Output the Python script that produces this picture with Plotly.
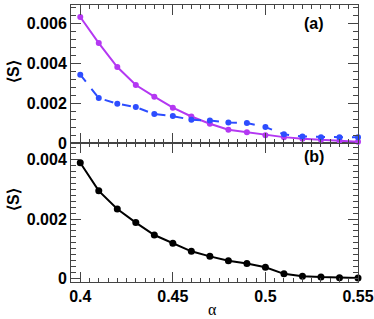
import plotly.graph_objects as go

alpha = [0.40, 0.41, 0.42, 0.43, 0.44, 0.45, 0.46, 0.47, 0.48, 0.49, 0.50, 0.51, 0.52, 0.53, 0.54, 0.55]
s_magenta = [0.0063, 0.0050, 0.0038, 0.0029, 0.00232, 0.00177, 0.00133, 0.00097, 0.00067, 0.00055, 0.00040, 0.00030, 0.00022, 0.00017, 0.00012, 0.00007]
s_blue = [0.00342, 0.00225, 0.00197, 0.00180, 0.00145, 0.00135, 0.00117, 0.00113, 0.00103, 0.00100, 0.00080, 0.00044, 0.00033, 0.00030, 0.00030, 0.00030]
s_black = [0.0039, 0.00295, 0.00234, 0.00188, 0.00146, 0.00118, 0.00091, 0.00074, 0.00059, 0.00050, 0.00037, 0.00015, 0.00007, 0.00004, 0.00002, 0.00001]

x_ticks = [0.4, 0.45, 0.5, 0.55]
x_ticklabels = ["0.4", "0.45", "0.5", "0.55"]
ya_ticks = [0, 0.002, 0.004, 0.006]
ya_ticklabels = ["0", "0.002", "0.004", "0.006"]
yb_ticks = [0, 0.002, 0.004]
yb_ticklabels = ["0", "0.002", "0.004"]

MAG = "#b438f2"
BLUE = "#2d4dff"
FONT = "Liberation Sans"
W, H = 374, 319
L, R, T, B = 71, 16, 5, 37

fig = go.Figure()
fig.add_trace(go.Scatter(x=alpha, y=s_magenta, mode="lines+markers", xaxis="x2", yaxis="y2",
                         line=dict(color=MAG, width=2), marker=dict(color=MAG, size=6),
                         cliponaxis=False, showlegend=False))
fig.add_trace(go.Scatter(x=alpha, y=s_blue, mode="lines+markers", xaxis="x2", yaxis="y2",
                         line=dict(color=BLUE, width=2, dash="dash"), marker=dict(color=BLUE, size=6),
                         cliponaxis=False, showlegend=False))
fig.add_trace(go.Scatter(x=alpha, y=s_black, mode="lines+markers", xaxis="x", yaxis="y",
                         line=dict(color="black", width=2), marker=dict(color="black", size=7),
                         cliponaxis=False, showlegend=False))

axcommon = dict(showline=True, linecolor="#444", linewidth=1, mirror="allticks",
                ticks="inside", showgrid=False, zeroline=False, automargin=False,
                ticklabeloverflow="allow",
                tickfont=dict(family=FONT, size=16, color="black", weight="bold"))

xr = [0.395, 0.55]
fig.update_layout(
    width=W, height=H,
    margin=dict(l=L, r=R, t=T, b=B, autoexpand=False),
    paper_bgcolor="white", plot_bgcolor="white",
    font=dict(family=FONT, color="black"),
    xaxis=dict(domain=[0, 1], anchor="y", range=xr, tickvals=x_ticks, ticktext=x_ticklabels,
               ticklen=10, tickcolor="#444",
               minor=dict(ticks="inside", dtick=0.005, tick0=0.4, ticklen=4, tickcolor="#444"),
               **axcommon),
    xaxis2=dict(domain=[0, 1], anchor="y2", range=xr, tickvals=x_ticks, showticklabels=False,
                ticklen=10, tickcolor="#444",
                minor=dict(ticks="inside", dtick=0.005, tick0=0.4, ticklen=4, tickcolor="#444"),
                **axcommon),
    yaxis=dict(domain=[0, 0.5013], anchor="x", range=[-0.000125, 0.00456],
               tickvals=yb_ticks, ticktext=yb_ticklabels, ticklen=10, tickcolor="#444",
               minor=dict(ticks="inside", dtick=0.0002, tick0=0, ticklen=5, tickcolor="#444"),
               **axcommon),
    yaxis2=dict(domain=[0.5013, 1], anchor="x2", range=[0, 0.0069],
                tickvals=ya_ticks, ticktext=ya_ticklabels, ticklen=10, tickcolor="#444",
                minor=dict(ticks="inside", dtick=0.0004, tick0=0, ticklen=5, tickcolor="#444"),
                **axcommon),
    annotations=[
        dict(text="<b>(a)</b>", x=0.526, y=0.0060, xref="x2", yref="y2", showarrow=False,
             xanchor="center", yanchor="middle",
             font=dict(family=FONT, size=16, color="black")),
        dict(text="<b>(b)</b>", x=0.526, y=0.0041, xref="x", yref="y", showarrow=False,
             xanchor="center", yanchor="middle",
             font=dict(family=FONT, size=16, color="black")),
        dict(text="α", x=(212 - L) / (W - L - R), y=-(309 - (H - B)) / (H - T - B),
             xref="paper", yref="paper", showarrow=False, xanchor="center", yanchor="middle",
             font=dict(family="Liberation Serif", size=16, color="black")),
        dict(text="<b>⟨S⟩</b>", x=-(L - 13) / (W - L - R), y=(H - B - 72) / (H - T - B),
             xref="paper", yref="paper", showarrow=False, textangle=-90,
             xanchor="center", yanchor="middle",
             font=dict(family=FONT, size=16, color="black")),
        dict(text="<b>⟨S⟩</b>", x=-(L - 13) / (W - L - R), y=(H - B - 200) / (H - T - B),
             xref="paper", yref="paper", showarrow=False, textangle=-90,
             xanchor="center", yanchor="middle",
             font=dict(family=FONT, size=16, color="black")),
    ],
)

fig.write_html("out.html", config={"displayModeBar": False},
               post_script="document.body.style.margin='0';document.body.style.overflow='hidden';")
